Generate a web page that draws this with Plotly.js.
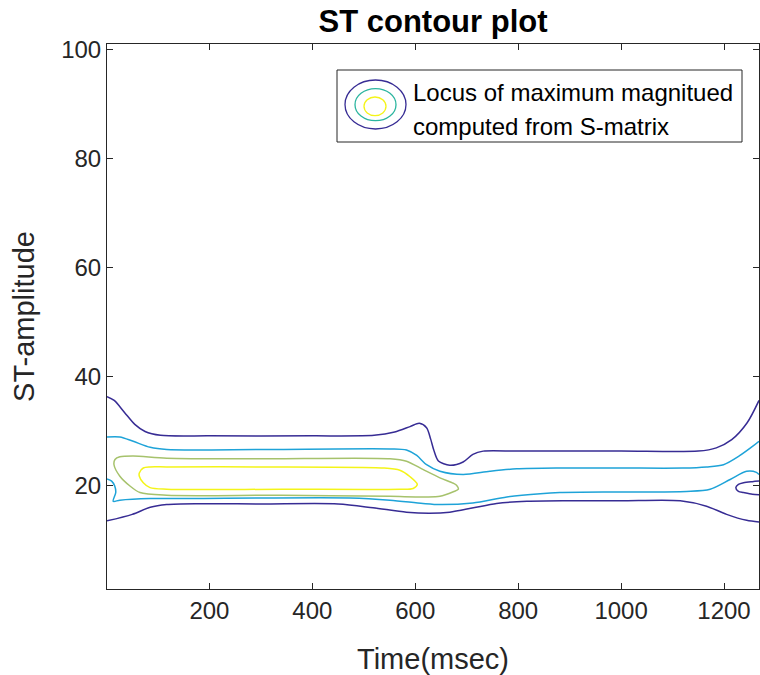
<!DOCTYPE html>
<html>
<head>
<meta charset="utf-8">
<script src="https://cdn.plot.ly/plotly-3.0.1.min.js"></script>
<style>html,body{margin:0;padding:0;background:#fff;}#chart{width:760px;height:675px;}</style>
</head>
<body>
<div id="chart"></div>
<script>
// Contour level 1 (outermost, dark blue) - upper branch
const lvl1UpperX = [1,15,35,55,75,105,200,400,520,560,590,608,622,630,636,645,667,693,712,732,800,1000,1150,1185,1215,1245,1268];
const lvl1UpperY = [36.3,35.6,33.4,31.2,29.9,29.2,29.1,29.1,29.2,29.8,30.8,31.4,30.6,28.5,26.5,24.5,23.7,24.3,25.7,26.3,26.3,26.3,26.3,26.9,28.4,31.5,35.6];
// Contour level 1 - lower branch
const lvl1LowerX = [1,50,85,117,180,300,450,518,583,628,667,713,758,817,900,1000,1115,1166,1205,1244,1268];
const lvl1LowerY = [13.5,14.7,16.0,16.5,16.65,16.6,16.6,15.9,15.1,14.9,15.1,15.9,16.7,17.1,17.2,17.2,17.2,16.2,14.7,13.6,13.3];
// Contour level 1 - small island at right edge
const lvl1IslandX = [1268,1255,1238,1228,1223,1228,1238,1255,1268];
const lvl1IslandY = [20.8,20.7,20.5,20.2,19.6,18.9,18.7,18.4,18.3];
// Contour level 2 (light blue) - upper branch
const lvl2UpperX = [1,26,52,85,117,300,551,583,603,622,648,693,745,797,881,1000,1120,1166,1199,1231,1256,1268];
const lvl2UpperY = [28.9,28.9,28.1,27.0,26.6,26.6,26.7,26.5,25.5,23.8,22.6,22.0,22.6,23.05,23.2,23.2,23.2,23.4,23.8,25.5,27.2,28.1];
// Contour level 2 - lower branch
const lvl2LowerX = [1,10,16,18,13,26,85,150,473,551,615,648,712,778,843,881,1000,1127,1173,1212,1244,1263,1268];
const lvl2LowerY = [21.2,20.8,19.9,18.7,17.1,17.3,17.6,17.6,17.7,17.3,16.7,16.5,16.8,17.9,18.5,18.7,18.8,18.9,19.3,21.1,22.6,22.4,22.0];
// Contour level 3 (olive) - closed loop
const lvl3X = [117,52,26,16.5,14.6,26,45.7,65,117,340,551,615.7,648,674,683.7,680.6,674,648,615.7,583,551,300,117];
const lvl3Y = [25.0,25.4,25.25,24.75,23.8,21.7,19.9,18.7,18.2,18.2,18.0,17.9,18.0,18.85,19.3,20.0,20.4,21.4,22.9,24.45,24.9,24.9,25.0];
// Contour level 4 (yellow) - closed loop
const lvl4X = [117,84.6,71.5,63.8,63.8,71.5,84.6,117,340,570,596,604,590,570,538,300,117];
const lvl4Y = [23.4,23.4,23.2,22.3,21.7,20.5,19.6,19.3,19.3,19.3,19.45,20.2,21.6,22.8,23.2,23.4,23.4];

const xTicks = [200,400,600,800,1000,1200];
const yTicks = [20,40,60,80,100];
const legendLines = ["Locus of maximum magnitued", "computed from S-matrix"];

const C1 = "#372c94", C2 = "#1ea3d8", C3 = "#a6c26c", C4 = "#f4f419";
function line(x, y, color) {
  return {type: "scatter", mode: "lines", x: x, y: y, showlegend: false, hoverinfo: "skip",
    line: {color: color, width: 1.5, shape: "spline", smoothing: 0.8}};
}
const data = [
  line(lvl1UpperX, lvl1UpperY, C1),
  line(lvl1LowerX, lvl1LowerY, C1),
  line(lvl1IslandX, lvl1IslandY, C1),
  line(lvl2UpperX, lvl2UpperY, C2),
  line(lvl2LowerX, lvl2LowerY, C2),
  line(lvl3X, lvl3Y, C3),
  line(lvl4X, lvl4Y, C4)
];

const FONT = "Liberation Sans, Arial, Helvetica, sans-serif";
const axisCommon = {
  showline: true, linecolor: "#262626", linewidth: 1, mirror: "ticks",
  ticks: "inside", ticklen: 6, tickcolor: "#262626", tickwidth: 1,
  showgrid: false, zeroline: false,
  tickfont: {family: FONT, size: 24, color: "#262626"}
};
function px2x(p) { return (p - 107) / 652; }
function px2y(p) { return (589 - p) / 545; }

const layout = {
  width: 760, height: 675,
  margin: {l: 107, r: 1, t: 44, b: 86},
  paper_bgcolor: "#ffffff", plot_bgcolor: "#ffffff",
  title: {text: "<b>ST contour plot</b>", font: {family: FONT, size: 31, color: "#000000"},
    xref: "paper", x: 0.5, xanchor: "center", yref: "container", y: 1 - 21/675, yanchor: "middle"},
  xaxis: Object.assign({}, axisCommon, {range: [1, 1268], tickvals: xTicks, ticktext: xTicks.map(String),
    title: {text: "Time(msec)", font: {family: FONT, size: 29, color: "#262626"}, standoff: 26}}),
  yaxis: Object.assign({}, axisCommon, {range: [1, 101], tickvals: yTicks, ticktext: yTicks.map(String),
    title: {text: "ST-amplitude", font: {family: FONT, size: 29, color: "#262626"}, standoff: 18}}),
  shapes: [
    {type: "rect", xref: "paper", yref: "paper", x0: px2x(337), x1: px2x(742), y0: px2y(142), y1: px2y(70),
      line: {color: "#262626", width: 1}, fillcolor: "#ffffff", layer: "above"},
    {type: "circle", xref: "paper", yref: "paper", x0: px2x(345), x1: px2x(406), y0: px2y(129), y1: px2y(80),
      line: {color: C1, width: 1.3}},
    {type: "circle", xref: "paper", yref: "paper", x0: px2x(355), x1: px2x(396), y0: px2y(120.7), y1: px2y(88.6),
      line: {color: "#2bb59f", width: 1.3}},
    {type: "circle", xref: "paper", yref: "paper", x0: px2x(364), x1: px2x(386), y0: px2y(115.7), y1: px2y(97),
      line: {color: C4, width: 1.3}}
  ],
  annotations: [
    {xref: "paper", yref: "paper", x: px2x(411), y: px2y(92), xanchor: "left", yanchor: "middle",
      text: legendLines[0], showarrow: false, font: {family: FONT, size: 24, color: "#000000"}},
    {xref: "paper", yref: "paper", x: px2x(411), y: px2y(126), xanchor: "left", yanchor: "middle",
      text: legendLines[1], showarrow: false, font: {family: FONT, size: 24, color: "#000000"}}
  ]
};
Plotly.newPlot("chart", data, layout, {staticPlot: true, displayModeBar: false});
</script>
</body>
</html>
